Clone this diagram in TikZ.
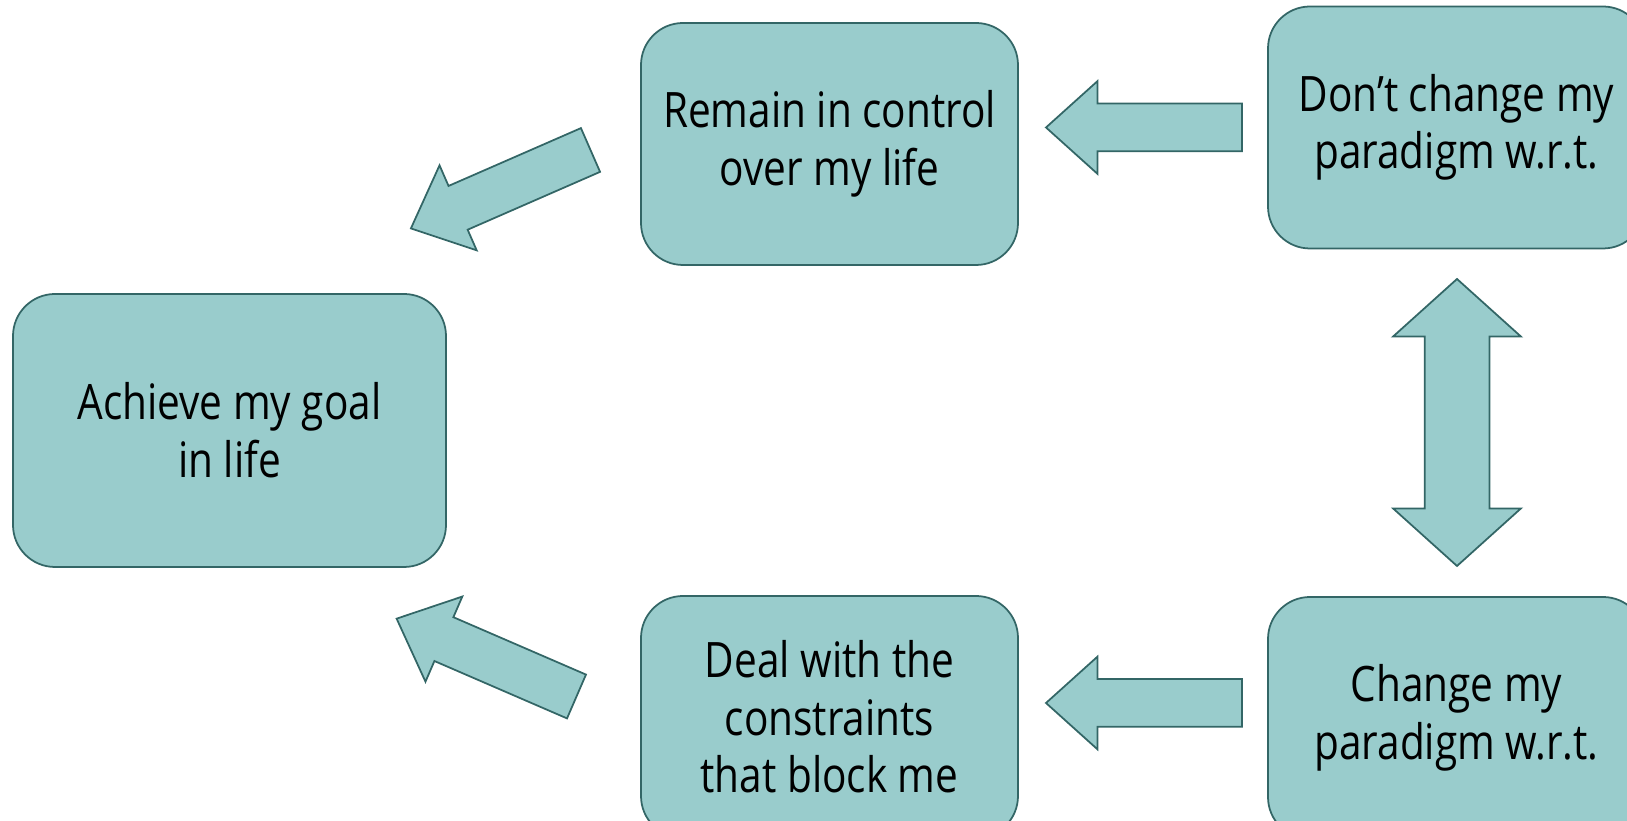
\documentclass[tikz,border=0pt]{standalone}
\usepackage{fontspec}
\usetikzlibrary{shapes.arrows}
\newfontfamily\boxfont[FakeStretch=0.83]{Open Sans}
\definecolor{boxfill}{HTML}{99CCCC}
\definecolor{boxline}{HTML}{336666}

\begin{document}
\begin{tikzpicture}[
  stepbox/.style={draw=boxline,fill=boxfill,line width=0.5pt,rounded corners=0.42cm,
    minimum width=3.77cm,minimum height=2.42cm,inner sep=0pt,align=center,
    font=\boxfont\fontsize{13.9pt}{16.4pt}\selectfont},
  blockarrow/.style={single arrow,draw=boxline,fill=boxfill,line width=0.5pt,
    inner xsep=0pt,inner ysep=0.23cm,single arrow head extend=0.225cm,
    single arrow tip angle=84,minimum height=1.96cm,outer sep=0pt,anchor=tail},
  swaparrow/.style={double arrow,draw=boxline,fill=boxfill,line width=0.5pt,
    inner xsep=0pt,inner ysep=0.315cm,double arrow head extend=0.315cm,
    double arrow tip angle=96,minimum height=2.87cm,outer sep=0pt}
]
\useasboundingbox (0,0) rectangle (16.27,-8.21);
\node[stepbox,minimum width=4.33cm,minimum height=2.73cm] (goal) at (2.295,-4.305) {Achieve my goal\\in life};
\node[stepbox] (control) at (8.295,-1.44) {Remain in control\\over my life};
\node[stepbox] (keep) at (14.565,-1.275) {Don’t change my\\paradigm w.r.t.};
\node[stepbox] (deal) at (8.295,-7.17) {Deal with the\\constraints\\that block me};
\node[stepbox] (change) at (14.565,-7.18) {Change my\\paradigm w.r.t.};
\node[blockarrow,rotate=180] (keeparrow) at (12.42,-1.275) {};
\node[blockarrow,rotate=180] (dealarrow) at (12.42,-7.03) {};
\node[blockarrow,rotate=203.6] (controlarrow) at (5.905,-1.50) {};
\node[blockarrow,rotate=156.6] (goalarrow) at (5.765,-6.965) {};
\node[swaparrow,rotate=90] (choicearrow) at (14.57,-4.225) {};
\end{tikzpicture}
\end{document}
